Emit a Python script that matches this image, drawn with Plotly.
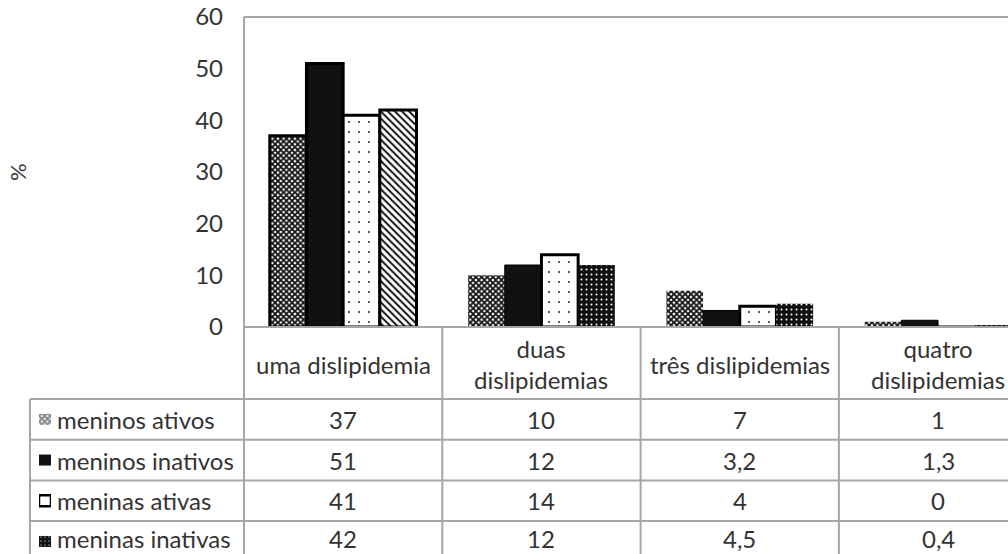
import plotly.graph_objects as go

# ---- data -------------------------------------------------------------
categories = ["uma dislipidemia", "duas dislipidemias", "três dislipidemias", "quatro dislipidemias"]
header_labels = ["uma dislipidemia", "duas<br>dislipidemias", "três dislipidemias", "quatro<br>dislipidemias"]
series_names = ["meninos ativos", "meninos inativos", "meninas ativas", "meninas inativas"]
meninos_ativos = [37, 10, 7, 1]
meninos_inativos = [51, 12, 3.2, 1.3]
meninas_ativas = [41, 14, 4, 0]
meninas_inativas = [42, 12, 4.5, 0.4]
y_ticks = [0, 10, 20, 30, 40, 50, 60]

series_values = [meninos_ativos, meninos_inativos, meninas_ativas, meninas_inativas]

# ---- geometry (pixels of the 1008x554 page) ---------------------------
W, H = 1008, 554
def px(x):
    return x / W
def py(y):
    return 1 - y / H

PLOT_LEFT, PLOT_TOP, PLOT_BASE = 244, 17, 327
COL_W = 198.3
ROW_TOP = 399
ROW_H = 40.7
TABLE_LEFT = 30
SW_X0, SW_X1 = 39, 51

FONT = "Lato"
TXT = "#333333"
GRID = "#a6a6a6"
BLACK = "#111111"

# fill patterns per series, one entry per category
styles = [
    dict(shape=["x"] * 4, size=[4] * 4, solidity=[0.7] * 4,
         fg=[BLACK] * 4, bg=["white"] * 4, lw=[3, 0, 0, 0]),
    dict(shape=[""] * 4, size=[8] * 4, solidity=[0.3] * 4,
         fg=[BLACK] * 4, bg=[BLACK] * 4, lw=[3, 1, 1, 1]),
    dict(shape=["."] * 4, size=[10] * 4, solidity=[0.03] * 4,
         fg=["#222222"] * 4, bg=["white"] * 4, lw=[3, 3, 3, 3]),
    dict(shape=["\\", ".", ".", "."], size=[5, 5, 5, 5], solidity=[0.4, 0.12, 0.12, 0.12],
         fg=[BLACK, "white", "white", "white"], bg=["white", BLACK, BLACK, BLACK], lw=[3, 0, 0, 0]),
]

fig = go.Figure()

for name, vals, st in zip(series_names, series_values, styles):
    fig.add_trace(go.Bar(
        x=categories, y=vals, name=name,
        marker=dict(
            color=BLACK,
            pattern=dict(shape=st["shape"], size=st["size"], solidity=st["solidity"],
                         fgcolor=st["fg"], bgcolor=st["bg"], fillmode="replace"),
            line=dict(color="black", width=st["lw"]),
        ),
        cliponaxis=False,
        showlegend=False,
        hoverinfo="skip",
    ))

# legend keys inside the data table (one small horizontal bar per series)
key_styles = [
    dict(shape="x", size=4, solidity=0.75, fg=BLACK, bg="white", lw=0),
    dict(shape="", size=8, solidity=0.3, fg=BLACK, bg=BLACK, lw=0),
    dict(shape=".", size=20, solidity=0.02, fg="#222222", bg="white", lw=2.5),
    dict(shape=".", size=4, solidity=0.15, fg="white", bg=BLACK, lw=0),
]
fig.add_trace(go.Bar(
    x=[1] * len(series_names), y=series_names, orientation="h",
    xaxis="x2", yaxis="y2", width=0.27,
    marker=dict(
        color=BLACK,
        pattern=dict(shape=[k["shape"] for k in key_styles],
                     size=[k["size"] for k in key_styles],
                     solidity=[k["solidity"] for k in key_styles],
                     fgcolor=[k["fg"] for k in key_styles],
                     bgcolor=[k["bg"] for k in key_styles]),
        line=dict(color="black", width=[k["lw"] for k in key_styles]),
    ),
    showlegend=False, hoverinfo="skip",
))

x_right = -0.5 + (W - PLOT_LEFT) / COL_W
rows_bottom = -0.5 + (H - ROW_TOP) / ROW_H

fig.update_layout(
    width=W, height=H,
    margin=dict(l=0, r=0, t=0, b=0, pad=0),
    paper_bgcolor="white", plot_bgcolor="white",
    font=dict(family=FONT, size=24, color=TXT),
    barmode="group", bargap=0.26, bargroupgap=0,
    xaxis=dict(domain=[px(PLOT_LEFT), 1], type="category", categoryorder="array",
               categoryarray=categories, range=[-0.5, x_right], automargin=False,
               showticklabels=False, showgrid=False, zeroline=False, showline=False, ticks=""),
    yaxis=dict(domain=[py(PLOT_BASE), py(PLOT_TOP)], range=[0, 60], tickvals=y_ticks,
               showgrid=False, zeroline=False, showline=False, ticks="", automargin=False,
               ticklabelstandoff=20, tickfont=dict(family=FONT, size=24, color=TXT)),
    xaxis2=dict(domain=[px(SW_X0), px(SW_X1)], range=[0, 1], anchor="y2", automargin=False,
                visible=False, fixedrange=True),
    yaxis2=dict(domain=[0, py(ROW_TOP)], type="category", categoryorder="array",
                categoryarray=series_names, range=[rows_bottom, -0.5], anchor="x2",
                automargin=False, visible=False, fixedrange=True),
)

shapes = []
def hline(y, x0, x1, color=GRID, width=2):
    shapes.append(dict(type="line", xref="paper", yref="paper", x0=px(x0), x1=px(x1),
                       y0=py(y), y1=py(y), line=dict(color=color, width=width)))

# plot-area frame
hline(PLOT_TOP, PLOT_LEFT, W, color="#505050", width=1.2)
shapes.append(dict(type="line", xref="paper", yref="paper", x0=px(PLOT_LEFT), x1=px(PLOT_LEFT),
                   y0=0, y1=py(PLOT_TOP), line=dict(color=GRID, width=2)))
# table rules
hline(PLOT_BASE, PLOT_LEFT, W)
for i in range(len(series_names)):
    hline(ROW_TOP + i * ROW_H, TABLE_LEFT, W)
shapes.append(dict(type="line", xref="paper", yref="paper", x0=px(TABLE_LEFT), x1=px(TABLE_LEFT),
                   y0=0, y1=py(ROW_TOP), line=dict(color=GRID, width=2)))
for i in range(len(categories) - 1):
    shapes.append(dict(type="line", xref="x", yref="paper", x0=i + 0.5, x1=i + 0.5,
                       y0=0, y1=py(PLOT_BASE), line=dict(color=GRID, width=2)))
fig.update_layout(shapes=shapes)

def fmt(v):
    return (f"{v:g}").replace(".", ",")

ann = []
# column headers
for cat, lab in zip(categories, header_labels):
    ann.append(dict(x=cat, xref="x", y=py((PLOT_BASE + ROW_TOP) / 2 + 1), yref="paper",
                    text=lab, showarrow=False, xanchor="center", yanchor="middle",
                    font=dict(family=FONT, size=24, color=TXT)))
# series names and values (last row sits against the page bottom)
last = len(series_names) - 1
for r, (name, vals) in enumerate(zip(series_names, series_values)):
    yc = py(ROW_TOP + (r + 0.5) * ROW_H - (2.5 if r == last else 0))
    ann.append(dict(x=px(SW_X1 + 4), xref="paper", y=yc, yref="paper", text=name,
                    showarrow=False, xanchor="left", yanchor="middle",
                    font=dict(family=FONT, size=24, color=TXT)))
    for cat, v in zip(categories, vals):
        ann.append(dict(x=cat, xref="x", y=yc, yref="paper", text=fmt(v),
                        showarrow=False, xanchor="center", yanchor="middle",
                        font=dict(family=FONT, size=24, color=TXT)))
# axis title
ann.append(dict(x=px(18), xref="paper", y=py(172), yref="paper", text="%", textangle=-90,
                showarrow=False, xanchor="center", yanchor="middle",
                font=dict(family=FONT, size=22, color=TXT)))
fig.update_layout(annotations=ann)

fig.write_html("out.html")
